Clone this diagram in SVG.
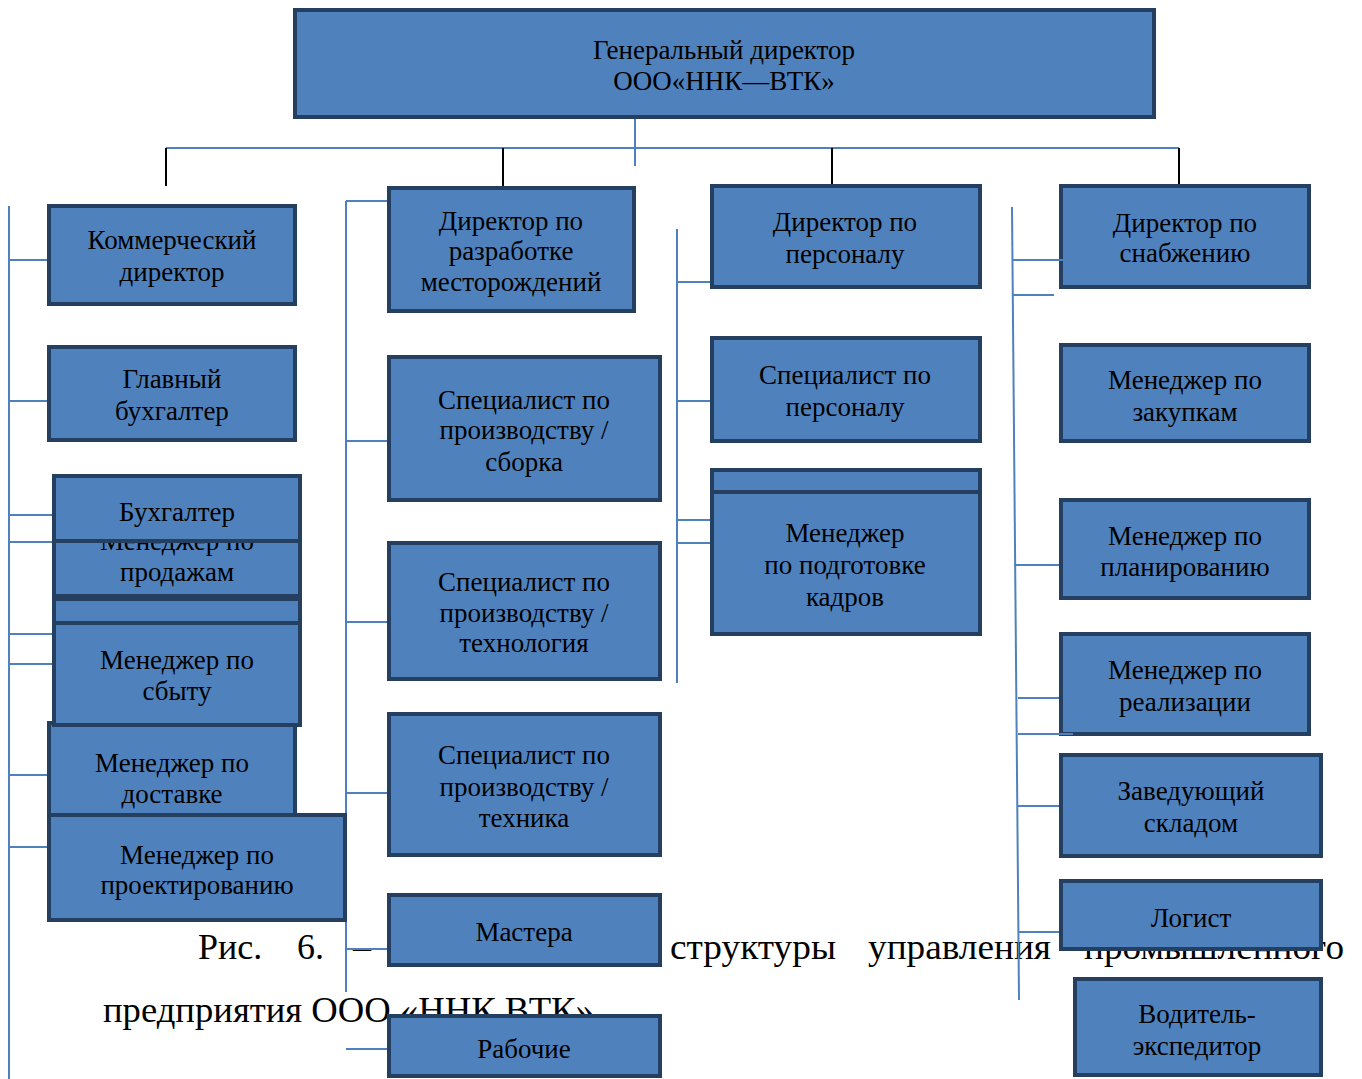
<svg xmlns="http://www.w3.org/2000/svg" width="1362" height="1079" viewBox="0 0 1362 1079">
<style>
.box{fill:#4F81BD;stroke:#243F60;stroke-width:4}
.t{font-family:"Liberation Serif","Times New Roman",serif;font-size:27px;fill:#000;text-anchor:middle;dominant-baseline:central}
.cap{font-family:"Liberation Serif","Times New Roman",serif;font-size:36px;fill:#000}
.bl{stroke:#4F81BD;stroke-width:2;fill:none}
.bk{stroke:#000;stroke-width:2;fill:none}
</style>
<rect width="1362" height="1079" fill="#fff"/>
<g id="caption">
<text class="cap" x="198" y="959">Рис.</text>
<text class="cap" x="297" y="959">6.</text>
<text class="cap" x="353" y="959">–</text>
<text class="cap" x="670" y="959" textLength="166" lengthAdjust="spacingAndGlyphs">структуры</text>
<text class="cap" x="868" y="959" textLength="183" lengthAdjust="spacingAndGlyphs">управления</text>
<text class="cap" x="1084" y="959" textLength="260" lengthAdjust="spacingAndGlyphs">промышленного</text>
<text class="cap" x="103" y="1022" textLength="500" lengthAdjust="spacingAndGlyphs">предприятия ООО «ННК ВТК».</text>
</g>
<g id="connectors">
<line class="bl" x1="635" y1="117" x2="635" y2="166"/>
<line class="bl" x1="166" y1="148" x2="1179" y2="148"/>
<line class="bk" x1="166" y1="148" x2="166" y2="186"/>
<line class="bk" x1="503" y1="148" x2="503" y2="186"/>
<line class="bk" x1="832" y1="148" x2="832" y2="186"/>
<line class="bk" x1="1179" y1="148" x2="1179" y2="186"/>
<line class="bl" x1="9" y1="206" x2="9" y2="1079"/>
<line class="bl" x1="9" y1="260" x2="47" y2="260"/>
<line class="bl" x1="9" y1="401" x2="47" y2="401"/>
<line class="bl" x1="9" y1="515" x2="52" y2="515"/>
<line class="bl" x1="9" y1="542" x2="52" y2="542"/>
<line class="bl" x1="9" y1="634" x2="52" y2="634"/>
<line class="bl" x1="9" y1="664" x2="52" y2="664"/>
<line class="bl" x1="9" y1="775" x2="47" y2="775"/>
<line class="bl" x1="9" y1="847" x2="47" y2="847"/>
<line class="bl" x1="346" y1="201" x2="346" y2="992"/>
<line class="bl" x1="346" y1="201" x2="387" y2="201"/>
<line class="bl" x1="346" y1="441" x2="387" y2="441"/>
<line class="bl" x1="346" y1="622" x2="387" y2="622"/>
<line class="bl" x1="346" y1="793" x2="387" y2="793"/>
<line class="bl" x1="346" y1="949" x2="387" y2="949"/>
<line class="bl" x1="346" y1="1049" x2="387" y2="1049"/>
<line class="bl" x1="677" y1="229" x2="677" y2="683"/>
<line class="bl" x1="677" y1="282" x2="711" y2="282"/>
<line class="bl" x1="677" y1="401" x2="711" y2="401"/>
<line class="bl" x1="677" y1="520" x2="711" y2="520"/>
<line class="bl" x1="677" y1="543" x2="711" y2="543"/>
<line class="bl" x1="1012" y1="207" x2="1019" y2="1000"/>
<line class="bl" x1="1012" y1="295" x2="1054" y2="295"/>
<line class="bl" x1="1014" y1="565" x2="1060" y2="565"/>
<line class="bl" x1="1018" y1="698" x2="1060" y2="698"/>
<line class="bl" x1="1018" y1="806" x2="1060" y2="806"/>
<line class="bl" x1="1019" y1="932" x2="1060" y2="932"/>
</g>
<g id="n-gen"><rect class="box" x="295" y="10" width="859" height="107"/><text class="t" x="724" y="50">Генеральный директор</text><text class="t" x="724" y="81">ООО«ННК—ВТК»</text></g>
<g id="n-komm"><rect class="box" x="49" y="206" width="246" height="98"/><text class="t" x="172" y="240">Коммерческий</text><text class="t" x="172" y="272">директор</text></g>
<g id="n-glbuh"><rect class="box" x="49" y="347" width="246" height="93"/><text class="t" x="172" y="379">Главный</text><text class="t" x="172" y="411">бухгалтер</text></g>
<g id="n-prodazh"><rect class="box" x="54" y="502" width="246" height="94"/><text class="t" x="177" y="541">Менеджер по</text><text class="t" x="177" y="572">продажам</text></g>
<g id="n-buh"><rect class="box" x="54" y="476" width="246" height="65"/><text class="t" x="177" y="512">Бухгалтер</text></g>
<g id="n-hidden1"><rect class="box" x="54" y="599" width="246" height="110"/></g>
<g id="n-dostavka"><rect class="box" x="49" y="723" width="246" height="105"/><text class="t" x="172" y="763">Менеджер по</text><text class="t" x="172" y="794">доставке</text></g>
<g id="n-sbyt"><rect class="box" x="54" y="623" width="246" height="102"/><text class="t" x="177" y="660">Менеджер по</text><text class="t" x="177" y="691">сбыту</text></g>
<g id="n-proekt"><rect class="box" x="49" y="815" width="296" height="105"/><text class="t" x="197" y="855">Менеджер по</text><text class="t" x="197" y="885">проектированию</text></g>
<g id="n-razrab"><rect class="box" x="389" y="188" width="245" height="123"/><text class="t" x="511" y="221">Директор по</text><text class="t" x="511" y="251">разработке</text><text class="t" x="511" y="282">месторождений</text></g>
<g id="n-sborka"><rect class="box" x="389" y="357" width="271" height="143"/><text class="t" x="524" y="400">Специалист по</text><text class="t" x="524" y="430">производству /</text><text class="t" x="524" y="462">сборка</text></g>
<g id="n-tehnol"><rect class="box" x="389" y="543" width="271" height="136"/><text class="t" x="524" y="582">Специалист по</text><text class="t" x="524" y="613">производству /</text><text class="t" x="524" y="643">технология</text></g>
<g id="n-tehnika"><rect class="box" x="389" y="714" width="271" height="141"/><text class="t" x="524" y="755">Специалист по</text><text class="t" x="524" y="787">производству /</text><text class="t" x="524" y="818">техника</text></g>
<g id="n-mastera"><rect class="box" x="389" y="895" width="271" height="70"/><text class="t" x="524" y="932">Мастера</text></g>
<g id="n-rabochie"><rect class="box" x="389" y="1016" width="271" height="60"/><text class="t" x="524" y="1049">Рабочие</text></g>
<g id="n-dirpers"><rect class="box" x="712" y="186" width="268" height="101"/><text class="t" x="845" y="222">Директор по</text><text class="t" x="845" y="254">персоналу</text></g>
<g id="n-specpers"><rect class="box" x="712" y="338" width="268" height="103"/><text class="t" x="845" y="375">Специалист по</text><text class="t" x="845" y="407">персоналу</text></g>
<g id="n-hidden2"><rect class="box" x="712" y="470" width="268" height="80"/></g>
<g id="n-podgot"><rect class="box" x="712" y="492" width="268" height="142"/><text class="t" x="845" y="533">Менеджер</text><text class="t" x="845" y="565">по подготовке</text><text class="t" x="845" y="597">кадров</text></g>
<g id="n-snab"><rect class="box" x="1061" y="186" width="248" height="101"/><text class="t" x="1185" y="223">Директор по</text><text class="t" x="1185" y="253">снабжению</text></g>
<g id="n-zakup"><rect class="box" x="1061" y="345" width="248" height="96"/><text class="t" x="1185" y="380">Менеджер по</text><text class="t" x="1185" y="412">закупкам</text></g>
<g id="n-plan"><rect class="box" x="1061" y="500" width="248" height="98"/><text class="t" x="1185" y="536">Менеджер по</text><text class="t" x="1185" y="567">планированию</text></g>
<g id="n-real"><rect class="box" x="1061" y="634" width="248" height="100"/><text class="t" x="1185" y="670">Менеджер по</text><text class="t" x="1185" y="702">реализации</text></g>
<g id="n-sklad"><rect class="box" x="1061" y="755" width="260" height="101"/><text class="t" x="1191" y="791">Заведующий</text><text class="t" x="1191" y="823">складом</text></g>
<g id="n-logist"><rect class="box" x="1061" y="881" width="260" height="68"/><text class="t" x="1191" y="918">Логист</text></g>
<g id="n-voditel"><rect class="box" x="1075" y="979" width="246" height="96"/><text class="t" x="1197" y="1014">Водитель-</text><text class="t" x="1197" y="1046">экспедитор</text></g>
<g id="connectors-over">
<line class="bl" x1="1012" y1="260" x2="1073" y2="260"/>
<line class="bl" x1="1018" y1="734" x2="1073" y2="734"/>
</g>
</svg>
